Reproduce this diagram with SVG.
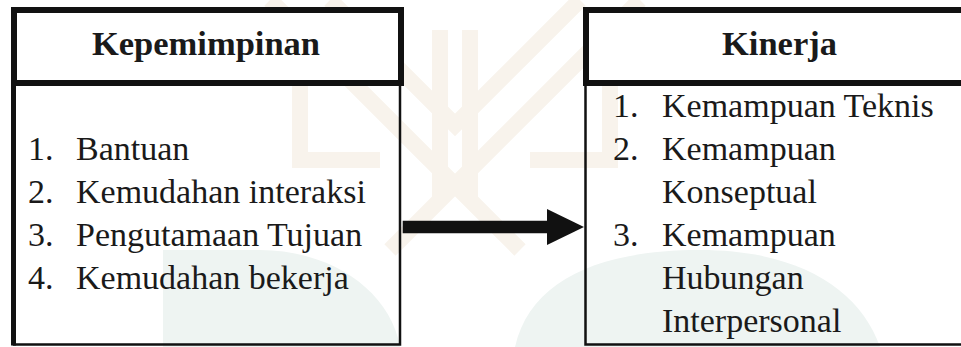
<svg xmlns="http://www.w3.org/2000/svg" width="961" height="347" viewBox="0 0 961 347">
  <style>
    .hdr { fill: #ffffff; stroke: #111111; stroke-width: 6; }
    .body { fill: none; stroke: #111111; stroke-width: 2.5; }
    .thick { stroke: #111111; stroke-width: 5; }
    .title { font-family: "Liberation Serif", "Times New Roman", serif; font-size: 34.5px; font-weight: bold; fill: #1a1a1a; text-anchor: middle; }
    .item { font-family: "Liberation Serif", "Times New Roman", serif; font-size: 34px; fill: #1a1a1a; }
    .wm-b { fill: none; stroke: #f8f3ec; stroke-width: 16; }
    .wm-t { fill: #eef4f2; }
  </style>
  <defs>
    <marker id="head" markerUnits="userSpaceOnUse" markerWidth="38" markerHeight="37" refX="0" refY="18" orient="auto">
      <path d="M0,0 L37,18 L0,36 Z" fill="#111111"/>
    </marker>
  </defs>
  <rect width="961" height="347" fill="#ffffff"/>

  <g id="watermark">
    <path class="wm-b" d="M270,0 L455,185 L640,0"/>
    <path class="wm-b" d="M330,0 L455,125 L580,0"/>
    <path class="wm-b" d="M440,30 V200 M470,30 V200"/>
    <path class="wm-b" d="M300,60 V160 H380 M610,60 V160 H530"/>
    <path class="wm-b" d="M455,185 L390,250 M455,185 L520,250"/>
    <path class="wm-t" d="M163,250 H260 C330,250 390,290 400,347 H163 Z"/>
    <path class="wm-t" d="M515,347 C530,280 600,250 700,250 C800,250 860,290 880,347 Z"/>
  </g>

  <g id="node-kepemimpinan">
    <rect class="body" x="14" y="83" width="386" height="261.5"/>
    <line class="thick" x1="13.5" y1="83" x2="13.5" y2="345.5"/>
    <rect class="hdr" x="14" y="10" width="387" height="73"/>
    <text class="title" x="206" y="55">Kepemimpinan</text>
    <text class="item" x="28" y="160">1.</text><text class="item" x="76" y="160">Bantuan</text>
    <text class="item" x="28" y="203">2.</text><text class="item" x="76" y="203">Kemudahan interaksi</text>
    <text class="item" x="28" y="246">3.</text><text class="item" x="76" y="246">Pengutamaan Tujuan</text>
    <text class="item" x="28" y="289">4.</text><text class="item" x="76" y="289">Kemudahan bekerja</text>
  </g>

  <g id="node-kinerja">
    <rect class="body" x="585.5" y="83" width="390" height="261.5"/>
    <rect class="hdr" x="586" y="10" width="387" height="73"/>
    <text class="title" x="779.5" y="55">Kinerja</text>
    <text class="item" x="613" y="117">1.</text><text class="item" x="662" y="117">Kemampuan Teknis</text>
    <text class="item" x="613" y="160">2.</text><text class="item" x="662" y="160">Kemampuan</text>
    <text class="item" x="662" y="203">Konseptual</text>
    <text class="item" x="613" y="246">3.</text><text class="item" x="662" y="246">Kemampuan</text>
    <text class="item" x="662" y="289">Hubungan</text>
    <text class="item" x="662" y="332">Interpersonal</text>
  </g>

  <g id="connectors">
    <line x1="402.7" y1="227" x2="547" y2="227" stroke="#111111" stroke-width="12.6" marker-end="url(#head)"/>
  </g>
</svg>
